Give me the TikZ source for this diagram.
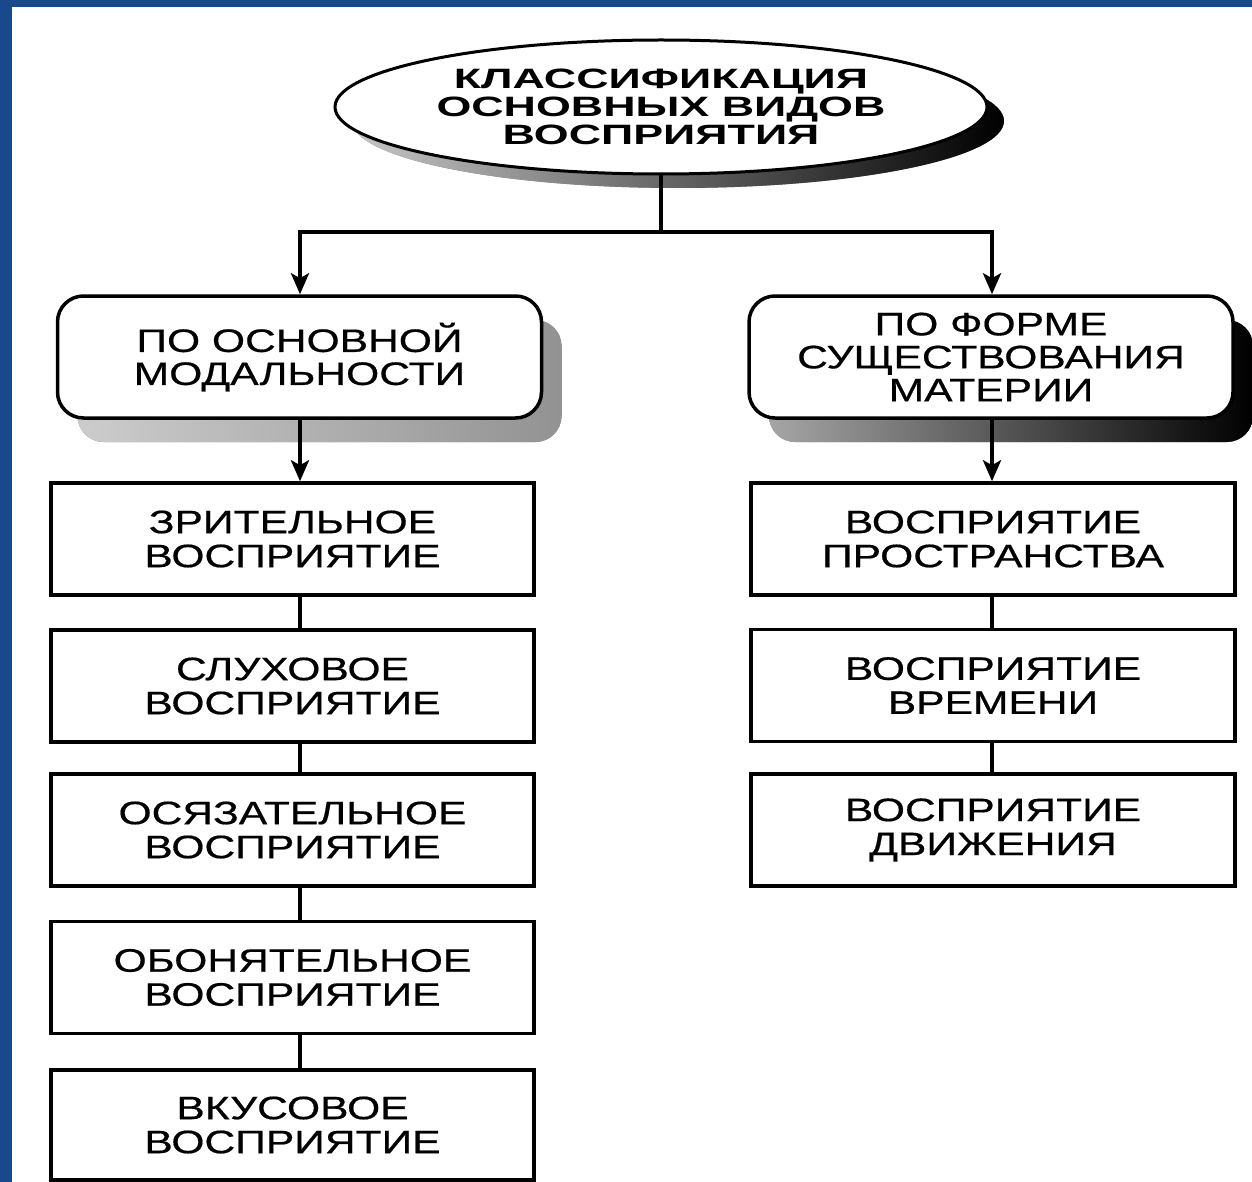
\documentclass[tikz,border=0pt]{standalone}
\usepackage{fontspec}
\setmainfont{Liberation Sans}
\newfontfamily\boxfont{Liberation Sans}[FakeStretch=1.31,FakeBold=0.5]
\newfontfamily\titlefont{Liberation Sans}[FakeStretch=1.6]
\usetikzlibrary{shapes.geometric,arrows.meta,shadows,calc}
\definecolor{bgblue}{RGB}{26,72,140}
\tikzset{
  leaf/.style={draw, line width=3.5pt, rectangle, minimum width=483pt,
    minimum height=112pt, inner sep=0pt, align=center, fill=white,
    font=\boxfont\fontsize{32.5}{34}\selectfont},
  group/.style={draw, line width=3.5pt, rectangle, rounded corners=26pt,
    minimum width=484pt, minimum height=122pt, inner sep=0pt, align=center,
    fill=white, font=\boxfont\fontsize{32.5}{33}\selectfont},
  conn/.style={line width=4pt},
  arr/.style={conn, -{Stealth[length=21pt,width=18pt,inset=5pt]}},
}
\begin{document}
\begin{tikzpicture}[x=1pt,y=-1pt]
\useasboundingbox (0,0) rectangle (1252,1182);
\fill[bgblue] (0,0) rectangle (1252,1182);
\fill[white] (12,7) rectangle (1252,1182);

% title
\node[ellipse, draw, line width=3pt, fill=white, minimum width=652pt,
  minimum height=134pt, inner sep=0pt, align=center,
  font=\titlefont\bfseries\fontsize{28}{28}\selectfont,
  drop shadow={shadow xshift=17pt, shadow yshift=-14pt, opacity=1,
    left color=gray!45, right color=black}]
  (title) at (661,107) {КЛАССИФИКАЦИЯ\\ОСНОВНЫХ ВИДОВ\\ВОСПРИЯТИЯ};

% group boxes
\node[group, drop shadow={shadow xshift=20pt, shadow yshift=-24pt, opacity=1,
    left color=gray!40, right color=gray!85}]
  (lg) at (299.5,357) {ПО ОСНОВНОЙ\\МОДАЛЬНОСТИ};
\node[group, drop shadow={shadow xshift=20pt, shadow yshift=-24pt, opacity=1,
    left color=gray!70, right color=black}]
  (rg) at (991,357) {ПО ФОРМЕ\\СУЩЕСТВОВАНИЯ\\МАТЕРИИ};

% left column
\node[leaf] (l1) at (292.5,539) {ЗРИТЕЛЬНОЕ\\ВОСПРИЯТИЕ};
\node[leaf] (l2) at (292.5,686) {СЛУХОВОЕ\\ВОСПРИЯТИЕ};
\node[leaf] (l3) at (292.5,830) {ОСЯЗАТЕЛЬНОЕ\\ВОСПРИЯТИЕ};
\node[leaf] (l4) at (292.5,977.5) {ОБОНЯТЕЛЬНОЕ\\ВОСПРИЯТИЕ};
\node[leaf, minimum height=110pt] (l5) at (292.5,1125) {ВКУСОВОЕ\\ВОСПРИЯТИЕ};

% right column
\node[leaf, minimum width=484pt] (r1) at (993,539) {ВОСПРИЯТИЕ\\ПРОСТРАНСТВА};
\node[leaf, minimum width=484pt] (r2) at (993,685.5) {ВОСПРИЯТИЕ\\ВРЕМЕНИ};
\node[leaf, minimum width=484pt] (r3) at (993,830) {ВОСПРИЯТИЕ\\ДВИЖЕНИЯ};

% connectors
\coordinate (J) at (661,232);
\coordinate (LX) at (300,0);
\coordinate (RX) at (992,0);
\draw[conn] (title.south) -- (J);
\draw[arr] (J) -| (lg.north -| LX);
\draw[arr] (J) -| (rg.north -| RX);
\draw[arr] (lg.south -| LX) -- (l1.north -| LX);
\draw[arr] (rg.south -| RX) -- (r1.north -| RX);
\draw[conn] (l1.south -| LX) -- (l2.north -| LX);
\draw[conn] (l2.south -| LX) -- (l3.north -| LX);
\draw[conn] (l3.south -| LX) -- (l4.north -| LX);
\draw[conn] (l4.south -| LX) -- (l5.north -| LX);
\draw[conn] (r1.south -| RX) -- (r2.north -| RX);
\draw[conn] (r2.south -| RX) -- (r3.north -| RX);
\end{tikzpicture}
\end{document}
